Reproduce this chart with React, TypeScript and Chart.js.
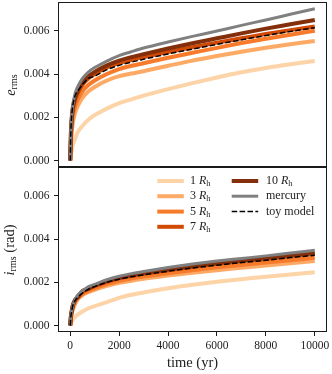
import React, { useEffect, useRef } from 'react';
import { Chart, registerables } from 'chart.js';
Chart.register(...registerables);

const FONT = "'Liberation Serif', 'Times New Roman', serif";

const TIMES = [0, 25, 50, 100, 200, 300, 500, 750, 1000, 1500, 2000, 2500, 3000, 4000, 5000, 6000, 7000, 8000, 9000, 10000];

// eccentricity rms (top panel)
const E_1RH = [0, 0.00025, 0.0004, 0.0007, 0.0010, 0.0013, 0.0016, 0.0019, 0.0021, 0.0024, 0.00265, 0.00283, 0.0030, 0.0033, 0.00358, 0.00384, 0.00408, 0.00428, 0.00445, 0.0046];
const E_3RH = [0, 0.0007, 0.0011, 0.0017, 0.0022, 0.0025, 0.0029, 0.0032, 0.0034, 0.0037, 0.0039, 0.00402, 0.00413, 0.00438, 0.00462, 0.00483, 0.00503, 0.00521, 0.00538, 0.00553];
const E_5RH = [0, 0.0009, 0.0014, 0.0020, 0.0025, 0.0028, 0.0032, 0.0035, 0.0037, 0.0040, 0.00423, 0.00438, 0.0045, 0.00475, 0.00498, 0.00521, 0.00543, 0.00563, 0.00582, 0.0060];
const E_7RH = [0, 0.0011, 0.0017, 0.0023, 0.0028, 0.0031, 0.0035, 0.0038, 0.0040, 0.0043, 0.0045, 0.00465, 0.00478, 0.00502, 0.00524, 0.00545, 0.00565, 0.00585, 0.00603, 0.0062];
const E_10RH = [0, 0.0012, 0.0018, 0.0024, 0.0029, 0.0032, 0.0036, 0.0039, 0.0041, 0.0044, 0.00462, 0.00478, 0.00492, 0.00518, 0.00542, 0.00565, 0.00588, 0.0061, 0.0063, 0.0065];
const E_MERCURY = [0, 0.0013, 0.0019, 0.0025, 0.0031, 0.0034, 0.0038, 0.0041, 0.0043, 0.0046, 0.00485, 0.00503, 0.0052, 0.00548, 0.00574, 0.00599, 0.00625, 0.0065, 0.00676, 0.00702];
const E_TOY = [0, 0.0013, 0.0019, 0.0025, 0.0030, 0.0032, 0.0035, 0.0038, 0.0039, 0.0042, 0.0044, 0.00455, 0.00468, 0.00493, 0.00515, 0.00537, 0.00558, 0.00578, 0.00597, 0.00614];

// inclination rms (bottom panel)
const I_1RH = [0, 0.0001, 0.00015, 0.00025, 0.0004, 0.0005, 0.00065, 0.0008, 0.0009, 0.00108, 0.00128, 0.00142, 0.00153, 0.00172, 0.00188, 0.00202, 0.00214, 0.00226, 0.00236, 0.00246];
const I_3RH = [0, 0.0003, 0.0005, 0.0007, 0.0010, 0.0012, 0.0014, 0.00155, 0.00165, 0.00183, 0.00197, 0.00207, 0.00216, 0.00231, 0.00244, 0.00256, 0.00267, 0.00278, 0.00288, 0.00298];
const I_5RH = [0, 0.0003, 0.0005, 0.0008, 0.0011, 0.00125, 0.00145, 0.0016, 0.00172, 0.00192, 0.00206, 0.00217, 0.00226, 0.00242, 0.00256, 0.00269, 0.0028, 0.00291, 0.00302, 0.00313];
const I_7RH = [0, 0.0004, 0.0006, 0.0009, 0.00115, 0.0013, 0.00155, 0.0017, 0.00182, 0.00202, 0.00218, 0.00229, 0.00239, 0.00256, 0.00271, 0.00285, 0.00297, 0.00308, 0.0032, 0.00332];
const I_10RH = [0, 0.0004, 0.0006, 0.0009, 0.0012, 0.0013, 0.0016, 0.0017, 0.00185, 0.00206, 0.00221, 0.00233, 0.00243, 0.0026, 0.00275, 0.00289, 0.00301, 0.00313, 0.00325, 0.00337];
const I_MERCURY = [0, 0.0004, 0.0006, 0.0009, 0.0012, 0.0014, 0.0016, 0.0018, 0.0019, 0.00212, 0.00228, 0.0024, 0.0025, 0.00268, 0.00284, 0.00298, 0.0031, 0.00322, 0.00335, 0.00348];
const I_TOY = [0, 0.0004, 0.0006, 0.0009, 0.00115, 0.0013, 0.0015, 0.00168, 0.0018, 0.0020, 0.00214, 0.00225, 0.00234, 0.00251, 0.00266, 0.00279, 0.00291, 0.00302, 0.00314, 0.00325];

const RH_LABELS = ['1', '3', '5', '7', '10'];
const X_TICKS = [0, 2000, 4000, 6000, 8000, 10000];
const Y_TICKS = [0, 0.002, 0.004, 0.006];
const X_MIN = -500;
const X_MAX = 10500;
const Y_MIN = -0.0003;
const Y_MAX = 0.00733;

const RH_COLORS = ['#fdd3a8', '#fdaa66', '#f77b2a', '#d04a05', '#842f0b'];
const MERCURY_COLOR = '#808080';
const TOY_COLOR = '#000000';

type Part = { t: string; it?: boolean; sub?: boolean };

function partFont(p: Part, size: number) {
  return `${p.it ? 'italic ' : ''}${p.sub ? size * 0.7 : size}px ${FONT}`;
}

function measureParts(ctx: CanvasRenderingContext2D, parts: Part[], size: number) {
  let w = 0;
  for (const p of parts) {
    ctx.font = partFont(p, size);
    w += ctx.measureText(p.t).width;
  }
  return w;
}

function drawParts(ctx: CanvasRenderingContext2D, parts: Part[], x: number, y: number, size: number, align: 'left' | 'center') {
  const total = measureParts(ctx, parts, size);
  let cx = align === 'center' ? x - total / 2 : x;
  ctx.textAlign = 'left';
  ctx.textBaseline = 'middle';
  for (const p of parts) {
    ctx.font = partFont(p, size);
    ctx.fillText(p.t, cx, p.sub ? y + size * 0.25 : y);
    cx += ctx.measureText(p.t).width;
  }
}

function series(vals: number[]) {
  return TIMES.map((t, i) => ({ x: t, y: vals[i] }));
}

function makeDatasets(rh: number[][], mercury: number[], toy: number[]) {
  const base = { pointRadius: 0, cubicInterpolationMode: 'monotone' as const, fill: false };
  const ds: any[] = [
    { ...base, label: 'toy model', data: series(toy), borderColor: TOY_COLOR, borderWidth: 1.5, borderDash: [5.5, 2.4] },
    { ...base, label: 'mercury', data: series(mercury), borderColor: MERCURY_COLOR, borderWidth: 3 },
  ];
  for (let i = rh.length - 1; i >= 0; i--) {
    ds.push({ ...base, label: RH_LABELS[i] + ' Rh', data: series(rh[i]), borderColor: RH_COLORS[i], borderWidth: 4 });
  }
  return ds;
}

const framePlugin = {
  id: 'frame',
  afterDraw(chart: any) {
    const { ctx, chartArea } = chart;
    ctx.save();
    ctx.strokeStyle = '#1a1a1a';
    ctx.lineWidth = 1;
    const l = Math.round(chartArea.left) + 0.5;
    const r = Math.round(chartArea.right) - 0.5;
    const t = Math.round(chartArea.top) + 0.5;
    const b = Math.round(chartArea.bottom) - 0.5;
    ctx.strokeRect(l, t, r - l, b - t);
    ctx.restore();
  },
};

function yScale() {
  return {
    type: 'linear',
    min: Y_MIN,
    max: Y_MAX,
    afterFit(scale: any) {
      scale.width = 58;
      scale.paddingTop = 0;
      scale.paddingBottom = 0;
    },
    afterBuildTicks(scale: any) { scale.ticks = Y_TICKS.map((v) => ({ value: v })); },
    border: { display: false },
    grid: { drawOnChartArea: false, tickLength: 4, color: '#1a1a1a', lineWidth: 1 },
    ticks: {
      padding: 4.5,
      color: '#222',
      font: { family: FONT, size: 11.5 },
      callback: (v: number) => v.toFixed(3),
    },
  };
}

export default function App() {
  const topRef = useRef<HTMLCanvasElement>(null);
  const botRef = useRef<HTMLCanvasElement>(null);

  useEffect(() => {
    const topLabel = {
      id: 'topLabel',
      afterDraw(chart: any) {
        const ctx = chart.ctx as CanvasRenderingContext2D;
        ctx.save();
        ctx.fillStyle = '#222';
        ctx.translate(11, 85);
        ctx.rotate(-Math.PI / 2);
        drawParts(ctx, [{ t: 'e', it: true }, { t: 'rms', sub: true }], 0, 0, 14.5, 'center');
        ctx.restore();
      },
    };
    const top = new Chart(topRef.current as HTMLCanvasElement, {
      type: 'line',
      data: { datasets: makeDatasets([E_1RH, E_3RH, E_5RH, E_7RH, E_10RH], E_MERCURY, E_TOY) },
      options: {
        responsive: false,
        animation: false,
        layout: { padding: { top: 2, right: 5, bottom: 1, left: 0 } },
        plugins: { legend: { display: false }, tooltip: { enabled: false } },
        scales: {
          x: { type: 'linear', min: X_MIN, max: X_MAX, display: false },
          y: yScale() as any,
        },
      },
      plugins: [framePlugin, topLabel],
    });

    const botLabels = {
      id: 'botLabels',
      afterDraw(chart: any) {
        const ctx = chart.ctx as CanvasRenderingContext2D;
        ctx.save();
        ctx.fillStyle = '#222';
        ctx.save();
        ctx.translate(10, 83);
        ctx.rotate(-Math.PI / 2);
        drawParts(ctx, [{ t: 'i', it: true }, { t: 'rms', sub: true }, { t: ' (rad)' }], 0, 0, 14.5, 'center');
        ctx.restore();
        drawParts(ctx, [{ t: 'time (yr)' }], 192.5, 196, 14.5, 'center');

        // legend
        const rowY = [14, 29.2, 44.6, 59.8];
        const entries: { col: number; row: number; color: string; width: number; dash?: number[]; parts: Part[] }[] = [];
        for (let i = 0; i < 4; i++) {
          entries.push({ col: 0, row: i, color: RH_COLORS[i], width: 4, parts: [{ t: RH_LABELS[i] + ' ' }, { t: 'R', it: true }, { t: 'h', sub: true }] });
        }
        entries.push({ col: 1, row: 0, color: RH_COLORS[4], width: 4, parts: [{ t: RH_LABELS[4] + ' ' }, { t: 'R', it: true }, { t: 'h', sub: true }] });
        entries.push({ col: 1, row: 1, color: MERCURY_COLOR, width: 3, parts: [{ t: 'mercury' }] });
        entries.push({ col: 1, row: 2, color: TOY_COLOR, width: 1.5, dash: [5.5, 2.4], parts: [{ t: 'toy model' }] });
        const colX = [157.3, 231.7];
        const textX = [190, 266];
        for (const e of entries) {
          const y = rowY[e.row];
          ctx.beginPath();
          ctx.strokeStyle = e.color;
          ctx.lineWidth = e.width;
          ctx.setLineDash(e.dash || []);
          ctx.moveTo(colX[e.col], y);
          ctx.lineTo(colX[e.col] + 26.5, y);
          ctx.stroke();
          ctx.setLineDash([]);
          ctx.fillStyle = '#222';
          drawParts(ctx, e.parts, textX[e.col], y, 12, 'left');
        }
        ctx.restore();
      },
    };

    const bot = new Chart(botRef.current as HTMLCanvasElement, {
      type: 'line',
      data: { datasets: makeDatasets([I_1RH, I_3RH, I_5RH, I_7RH, I_10RH], I_MERCURY, I_TOY) },
      options: {
        responsive: false,
        animation: false,
        layout: { padding: { top: 0, right: 5, bottom: 0, left: 0 } },
        plugins: { legend: { display: false }, tooltip: { enabled: false } },
        scales: {
          x: {
            type: 'linear',
            min: X_MIN,
            max: X_MAX,
            afterFit(scale: any) {
              scale.height = 42;
              scale.paddingLeft = 0;
              scale.paddingRight = 0;
            },
            afterBuildTicks(scale: any) { scale.ticks = X_TICKS.map((v) => ({ value: v })); },
            border: { display: false },
            grid: { drawOnChartArea: false, tickLength: 4, color: '#1a1a1a', lineWidth: 1 },
            ticks: {
              padding: 3,
              maxRotation: 0,
              color: '#222',
              font: { family: FONT, size: 11.5 },
              callback: (v: number) => String(v),
            },
          } as any,
          y: yScale() as any,
        },
      },
      plugins: [framePlugin, botLabels],
    });

    return () => {
      top.destroy();
      bot.destroy();
    };
  }, []);

  return (
    <div style={{ position: 'fixed', left: 0, top: 0, width: 332, height: 374, background: '#fff' }}>
      <canvas ref={topRef} width={332} height={168} style={{ position: 'absolute', left: 0, top: 0, width: 332, height: 168 }} />
      <canvas ref={botRef} width={332} height={207} style={{ position: 'absolute', left: 0, top: 167, width: 332, height: 207 }} />
    </div>
  );
}
